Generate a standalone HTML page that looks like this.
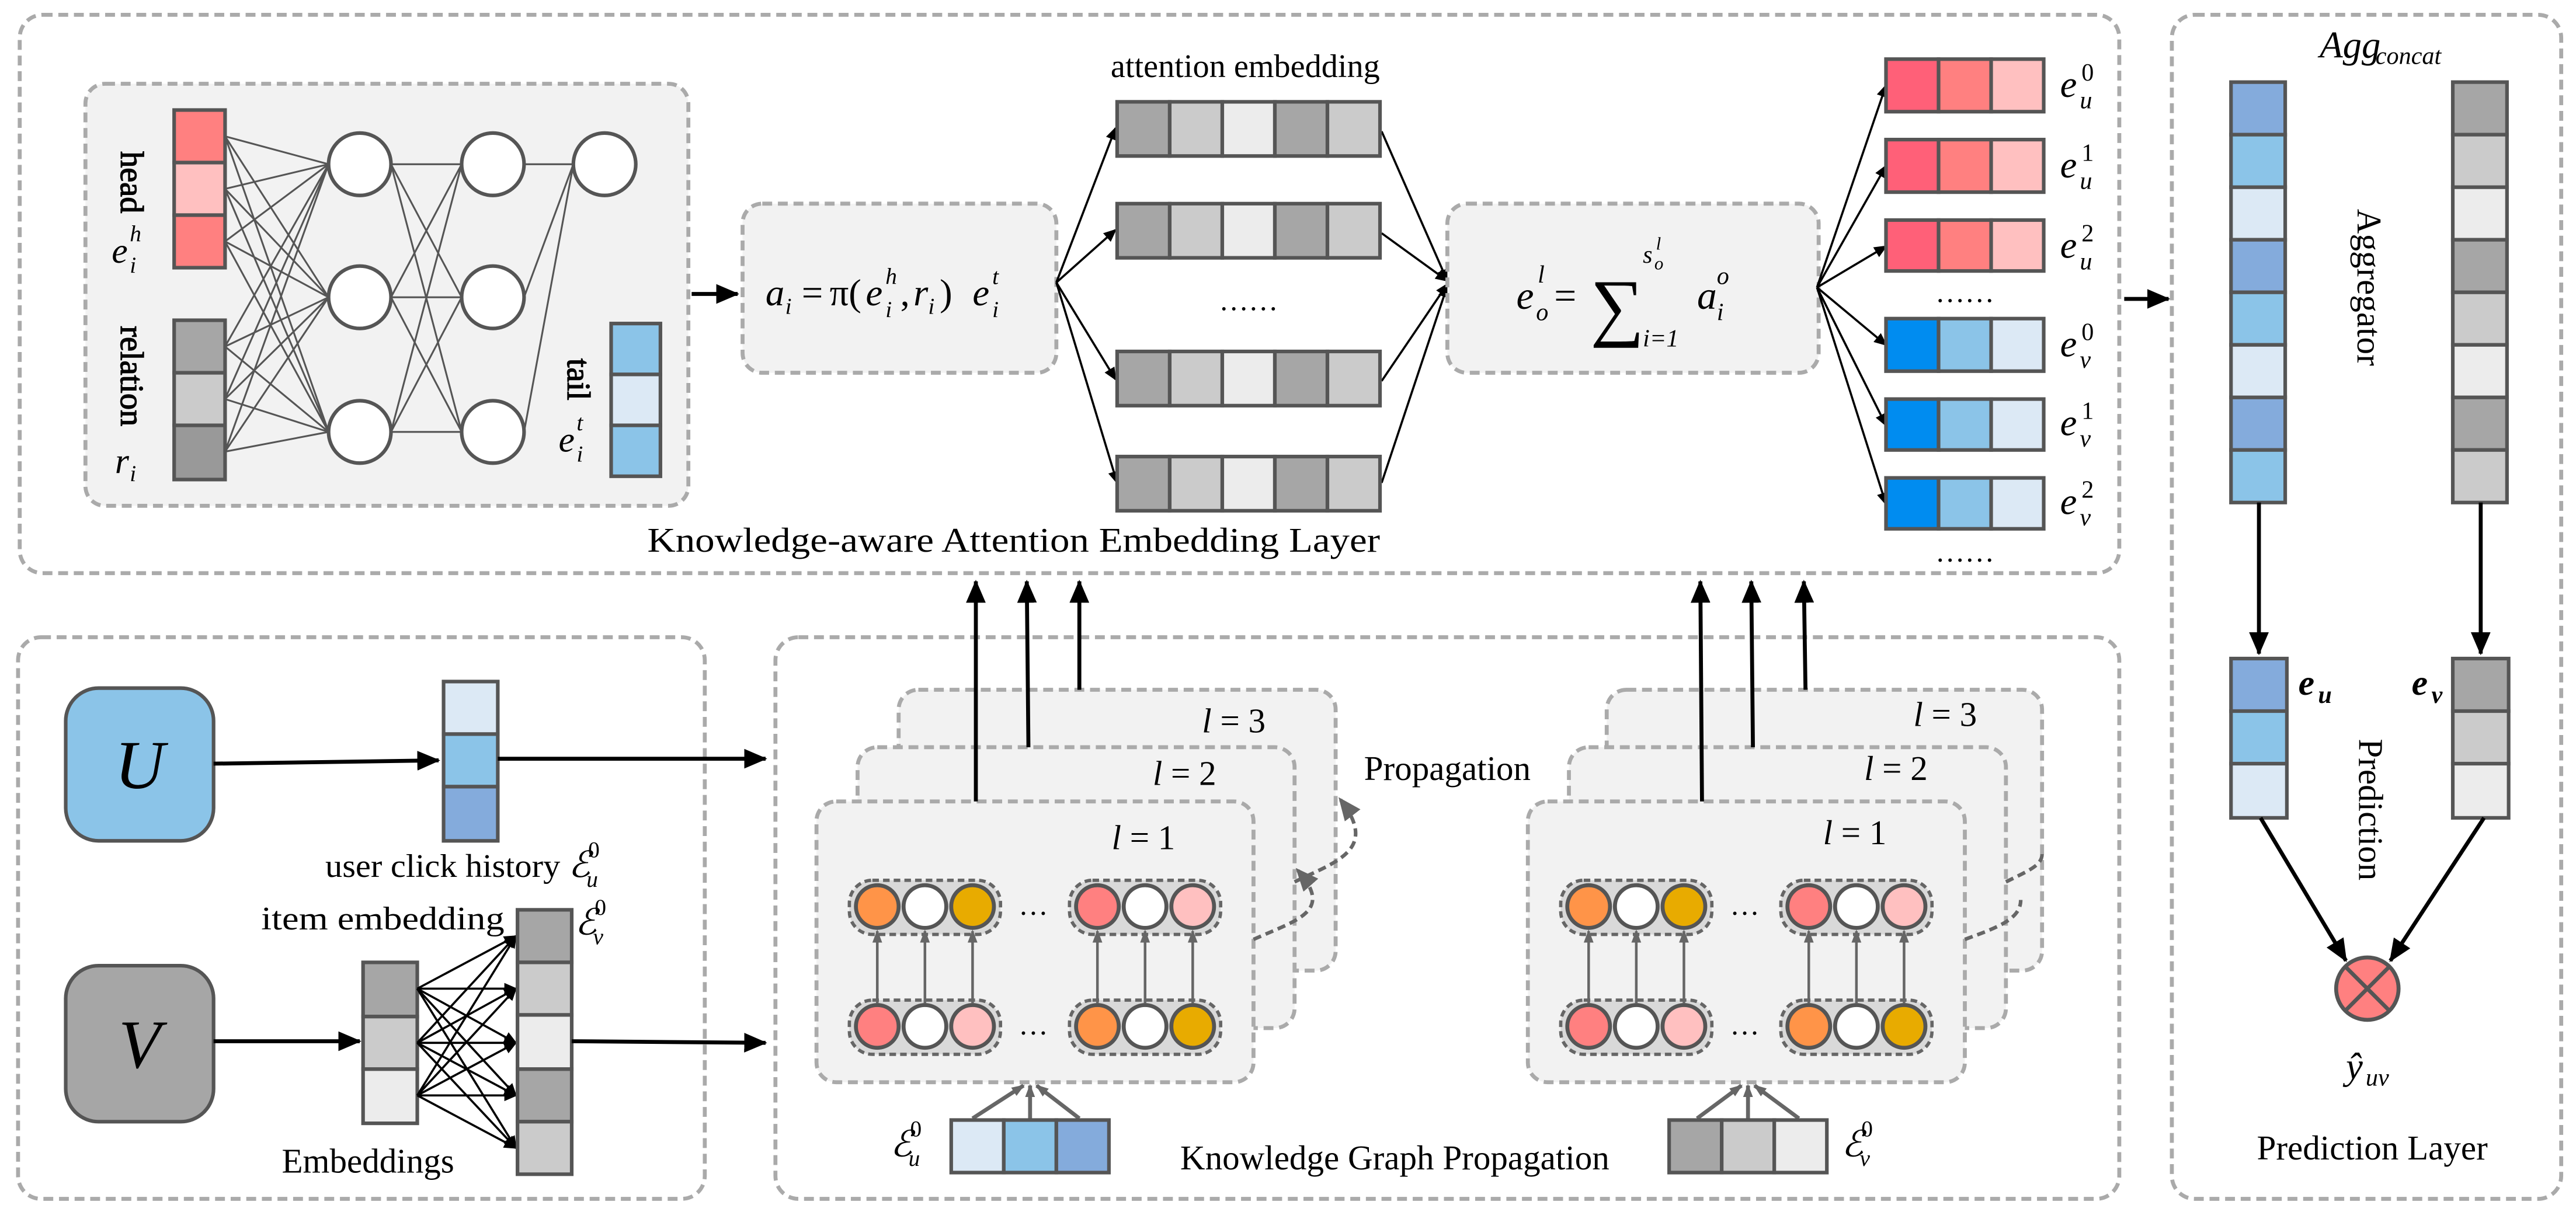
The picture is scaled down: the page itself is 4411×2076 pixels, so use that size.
<!DOCTYPE html>
<html><head><meta charset="utf-8"><style>
html,body{margin:0;padding:0;background:#fff;}
svg{display:block;}
text{font-family:"Liberation Serif","DejaVu Serif",serif;fill:#000;}
.m{font-style:italic;}
.db{fill:none;stroke:#aaa;stroke-width:2.4;stroke-dasharray:6 3.5;}
.dbf{fill:#f2f2f2;stroke:#aaa;stroke-width:2.4;stroke-dasharray:6 3.5;}
.c{stroke:#555;stroke-width:2.2;}
.nn{stroke:#555;stroke-width:1.1;fill:none;}
.ar{stroke:#000;stroke-width:1.3;fill:none;}
.arb{stroke:#000;stroke-width:2.4;fill:none;}
.ga{stroke:#666;stroke-width:1.6;fill:none;}
.vt{writing-mode:vertical-rl;}
</style></head><body>
<svg width="4411" height="2076" viewBox="0 0 1568 738" preserveAspectRatio="none" xmlns="http://www.w3.org/2000/svg">
<defs>
<marker id="a" markerWidth="8" markerHeight="8" refX="7" refY="4" orient="auto" markerUnits="userSpaceOnUse"><path d="M0,0.5 L8,4 L0,7.5 z" fill="#000"/></marker>
<marker id="ab" markerWidth="14" markerHeight="12" refX="13" refY="6" orient="auto" markerUnits="userSpaceOnUse"><path d="M0,0 L14,6 L0,12 z" fill="#000"/></marker>
<marker id="ag" markerWidth="8" markerHeight="8" refX="7" refY="4" orient="auto" markerUnits="userSpaceOnUse"><path d="M0,1 L8,4 L0,7 z" fill="#666"/></marker>
<marker id="agb" markerWidth="14" markerHeight="12" refX="12" refY="6" orient="auto" markerUnits="userSpaceOnUse"><path d="M0,0 L14,6 L0,12 z" fill="#666"/></marker>
</defs>

<rect class="db" x="12" y="9" width="1278" height="340" rx="14"/>
<rect class="db" x="1322" y="9" width="237" height="721" rx="14"/>
<rect class="db" x="11" y="388" width="418" height="342" rx="14"/>
<rect class="db" x="472" y="388" width="818" height="342" rx="14"/>

<rect class="dbf" x="52" y="51" width="367" height="257" rx="12"/>
<g class="nn">
<path d="M137,83L200,100M137,83L200,181M137,83L200,263M137,115L200,100M137,115L200,181M137,115L200,263M137,147L200,100M137,147L200,181M137,147L200,263M137,211L200,100M137,211L200,181M137,211L200,263M137,243L200,100M137,243L200,181M137,243L200,263M137,275L200,100M137,275L200,181M137,275L200,263"/>
<path d="M238,100L281,100M238,100L281,181M238,100L281,263M238,181L281,100M238,181L281,181M238,181L281,263M238,263L281,100M238,263L281,181M238,263L281,263"/>
<path d="M319,100L349,100M319,181L349,100M319,263L349,100"/>
</g>
<g fill="#fff" stroke="#555" stroke-width="2.2">
<circle cx="219" cy="100" r="19"/><circle cx="219" cy="181" r="19"/><circle cx="219" cy="263" r="19"/>
<circle cx="300" cy="100" r="19"/><circle cx="300" cy="181" r="19"/><circle cx="300" cy="263" r="19"/>
<circle cx="368" cy="100" r="19"/>
</g>
<g class="c">
<rect x="106" y="67" width="31" height="32" fill="#ff8080"/><rect x="106" y="99" width="31" height="32" fill="#ffc0c0"/><rect x="106" y="131" width="31" height="32" fill="#ff8080"/>
<rect x="106" y="195" width="31" height="32" fill="#a6a6a6"/><rect x="106" y="227" width="31" height="32" fill="#cbcbcb"/><rect x="106" y="259" width="31" height="33" fill="#999"/>
<rect x="372" y="197" width="30" height="31" fill="#8bc4e8"/><rect x="372" y="228" width="30" height="31" fill="#dce9f5"/><rect x="372" y="259" width="30" height="31" fill="#8bc4e8"/>
</g>
<text class="vt" x="80" y="111" font-size="20" text-anchor="middle" stroke="#000" stroke-width="0.5">head</text>
<text class="vt" x="80" y="229" font-size="20" text-anchor="middle" stroke="#000" stroke-width="0.5">relation</text>
<text class="vt" x="352" y="231" font-size="20" text-anchor="middle" stroke="#000" stroke-width="0.5">tail</text>
<text x="68" y="160" font-size="22" class="m">e</text><text x="79" y="166" font-size="14" class="m">i</text><text x="79" y="147" font-size="14" class="m">h</text>
<text x="70" y="288" font-size="22" class="m">r</text><text x="79" y="293" font-size="14" class="m">i</text>
<text x="340" y="275" font-size="22" class="m">e</text><text x="351" y="281" font-size="14" class="m">i</text><text x="351" y="262" font-size="14" class="m">t</text>

<line class="arb" x1="421" y1="179" x2="449" y2="179" marker-end="url(#ab)"/>
<rect class="dbf" x="452" y="124" width="191" height="103" rx="12"/>
<g font-size="23">
<text x="466" y="186" class="m">a</text><text x="478" y="191" font-size="14" class="m">i</text>
<text x="488" y="186">=</text>
<text x="505" y="186">π(</text>
<text x="527" y="186" class="m">e</text><text x="539" y="193" font-size="14" class="m">i</text><text x="539" y="173" font-size="14" class="m">h</text>
<text x="548" y="186">,</text>
<text x="556" y="186" class="m">r</text><text x="565" y="191" font-size="14" class="m">i</text>
<text x="572" y="186">)</text>
<text x="592" y="186" class="m">e</text><text x="604" y="193" font-size="14" class="m">i</text><text x="604" y="173" font-size="14" class="m">t</text>
</g>

<g class="ar">
<line x1="643" y1="172" x2="679" y2="78" marker-end="url(#a)"/>
<line x1="643" y1="172" x2="679" y2="140" marker-end="url(#a)"/>
<line x1="643" y1="172" x2="679" y2="231" marker-end="url(#a)"/>
<line x1="643" y1="172" x2="680" y2="294" marker-end="url(#a)"/>
<line x1="841" y1="80" x2="881" y2="171" marker-end="url(#a)"/>
<line x1="841" y1="142" x2="881" y2="171" marker-end="url(#a)"/>
<line x1="841" y1="232" x2="881" y2="173" marker-end="url(#a)"/>
<line x1="841" y1="294" x2="881" y2="174" marker-end="url(#a)"/>
</g>
<text x="758" y="47" font-size="20" text-anchor="middle">attention embedding</text>
<g class="c">
<g transform="translate(680,62)"><rect width="32" height="33" fill="#a6a6a6"/><rect x="32" width="32" height="33" fill="#cbcbcb"/><rect x="64" width="32" height="33" fill="#ececec"/><rect x="96" width="32" height="33" fill="#a6a6a6"/><rect x="128" width="32" height="33" fill="#cbcbcb"/></g>
<g transform="translate(680,124)"><rect width="32" height="33" fill="#a6a6a6"/><rect x="32" width="32" height="33" fill="#cbcbcb"/><rect x="64" width="32" height="33" fill="#ececec"/><rect x="96" width="32" height="33" fill="#a6a6a6"/><rect x="128" width="32" height="33" fill="#cbcbcb"/></g>
<g transform="translate(680,214)"><rect width="32" height="33" fill="#a6a6a6"/><rect x="32" width="32" height="33" fill="#cbcbcb"/><rect x="64" width="32" height="33" fill="#ececec"/><rect x="96" width="32" height="33" fill="#a6a6a6"/><rect x="128" width="32" height="33" fill="#cbcbcb"/></g>
<g transform="translate(680,278)"><rect width="32" height="33" fill="#a6a6a6"/><rect x="32" width="32" height="33" fill="#cbcbcb"/><rect x="64" width="32" height="33" fill="#ececec"/><rect x="96" width="32" height="33" fill="#a6a6a6"/><rect x="128" width="32" height="33" fill="#cbcbcb"/></g>
</g>
<text x="760" y="189" font-size="18" text-anchor="middle">……</text>

<rect class="dbf" x="881" y="124" width="226" height="103" rx="12"/>
<g font-size="24">
<text x="923" y="188" class="m">e</text><text x="935" y="195" font-size="15" class="m">o</text><text x="936" y="172" font-size="15" class="m">l</text>
<text x="946" y="188">=</text>
<text x="968" y="202" font-size="46">∑</text>
<text x="1000" y="211" font-size="15" class="m">i=1</text>
<text x="1000" y="160" font-size="15" class="m">s</text><text x="1007" y="164" font-size="11" class="m">o</text><text x="1008" y="152" font-size="11" class="m">l</text>
<text x="1033" y="188" class="m">a</text><text x="1045" y="195" font-size="15" class="m">i</text><text x="1045" y="173" font-size="15" class="m">o</text>
</g>

<g class="ar">
<line x1="1106" y1="175" x2="1148" y2="52" marker-end="url(#a)"/>
<line x1="1106" y1="175" x2="1148" y2="101" marker-end="url(#a)"/>
<line x1="1106" y1="175" x2="1148" y2="150" marker-end="url(#a)"/>
<line x1="1106" y1="175" x2="1148" y2="210" marker-end="url(#a)"/>
<line x1="1106" y1="175" x2="1148" y2="259" marker-end="url(#a)"/>
<line x1="1106" y1="175" x2="1148" y2="307" marker-end="url(#a)"/>
</g>
<g class="c">
<g transform="translate(1148,36)"><rect width="32" height="32" fill="#ff6078"/><rect x="32" width="32" height="32" fill="#ff8080"/><rect x="64" width="32" height="32" fill="#ffc0c0"/></g>
<g transform="translate(1148,85)"><rect width="32" height="32" fill="#ff6078"/><rect x="32" width="32" height="32" fill="#ff8080"/><rect x="64" width="32" height="32" fill="#ffc0c0"/></g>
<g transform="translate(1148,134)"><rect width="32" height="31" fill="#ff6078"/><rect x="32" width="32" height="31" fill="#ff8080"/><rect x="64" width="32" height="31" fill="#ffc0c0"/></g>
<g transform="translate(1148,194)"><rect width="32" height="32" fill="#008cf0"/><rect x="32" width="32" height="32" fill="#8bc4e8"/><rect x="64" width="32" height="32" fill="#dce9f5"/></g>
<g transform="translate(1148,243)"><rect width="32" height="31" fill="#008cf0"/><rect x="32" width="32" height="31" fill="#8bc4e8"/><rect x="64" width="32" height="31" fill="#dce9f5"/></g>
<g transform="translate(1148,291)"><rect width="32" height="31" fill="#008cf0"/><rect x="32" width="32" height="31" fill="#8bc4e8"/><rect x="64" width="32" height="31" fill="#dce9f5"/></g>
</g>
<g font-size="23" class="m">
<text x="1254" y="59">e</text><text x="1266" y="66" font-size="15">u</text><text x="1267" y="49" font-size="15" font-style="normal">0</text>
<text x="1254" y="108">e</text><text x="1266" y="115" font-size="15">u</text><text x="1267" y="98" font-size="15" font-style="normal">1</text>
<text x="1254" y="157">e</text><text x="1266" y="164" font-size="15">u</text><text x="1267" y="147" font-size="15" font-style="normal">2</text>
<text x="1254" y="217">e</text><text x="1266" y="224" font-size="15">v</text><text x="1267" y="207" font-size="15" font-style="normal">0</text>
<text x="1254" y="265">e</text><text x="1266" y="272" font-size="15">v</text><text x="1267" y="255" font-size="15" font-style="normal">1</text>
<text x="1254" y="313">e</text><text x="1266" y="320" font-size="15">v</text><text x="1267" y="303" font-size="15" font-style="normal">2</text>
</g>
<text x="1196" y="184" font-size="18" text-anchor="middle">……</text>
<text x="1196" y="342" font-size="18" text-anchor="middle">……</text>
<text x="617" y="336" font-size="21" text-anchor="middle" textLength="446" lengthAdjust="spacingAndGlyphs">Knowledge-aware Attention Embedding Layer</text>

<line class="arb" x1="1293" y1="182" x2="1320" y2="182" marker-end="url(#ab)"/>

<text x="1412" y="35" font-size="23" class="m">Agg</text><text x="1446" y="39" font-size="15" class="m">concat</text>
<g class="c">
<g transform="translate(1358,50)"><rect width="33" height="32" fill="#84abdc"/><rect y="32" width="33" height="32" fill="#8bc4e8"/><rect y="64" width="33" height="32" fill="#dce9f5"/><rect y="96" width="33" height="32" fill="#84abdc"/><rect y="128" width="33" height="32" fill="#8bc4e8"/><rect y="160" width="33" height="32" fill="#dce9f5"/><rect y="192" width="33" height="32" fill="#84abdc"/><rect y="224" width="33" height="32" fill="#8bc4e8"/></g>
<g transform="translate(1493,50)"><rect width="33" height="32" fill="#a6a6a6"/><rect y="32" width="33" height="32" fill="#cbcbcb"/><rect y="64" width="33" height="32" fill="#ececec"/><rect y="96" width="33" height="32" fill="#a6a6a6"/><rect y="128" width="33" height="32" fill="#cbcbcb"/><rect y="160" width="33" height="32" fill="#ececec"/><rect y="192" width="33" height="32" fill="#a6a6a6"/><rect y="224" width="33" height="32" fill="#cbcbcb"/></g>
</g>
<g transform="translate(1435,175) rotate(90)"><text x="0" y="0" font-size="21" text-anchor="middle">Aggregator</text></g>
<line class="arb" x1="1375" y1="306" x2="1375" y2="398" marker-end="url(#ab)"/>
<line class="arb" x1="1510" y1="306" x2="1510" y2="398" marker-end="url(#ab)"/>
<g class="c">
<rect x="1358" y="401" width="34" height="32" fill="#84abdc"/><rect x="1358" y="433" width="34" height="32" fill="#8bc4e8"/><rect x="1358" y="465" width="34" height="33" fill="#dce9f5"/>
<rect x="1493" y="401" width="34" height="32" fill="#a6a6a6"/><rect x="1493" y="433" width="34" height="32" fill="#cbcbcb"/><rect x="1493" y="465" width="34" height="33" fill="#ececec"/>
</g>
<text x="1399" y="423" font-size="22" class="m" font-weight="bold">e</text><text x="1411" y="428" font-size="15" class="m" font-weight="bold">u</text>
<text x="1468" y="423" font-size="22" class="m" font-weight="bold">e</text><text x="1480" y="428" font-size="15" class="m" font-weight="bold">v</text>
<g transform="translate(1436,493) rotate(90)"><text x="0" y="0" font-size="21" text-anchor="middle">Prediction</text></g>
<line class="arb" x1="1376" y1="498" x2="1428" y2="585" marker-end="url(#ab)"/>
<line class="arb" x1="1512" y1="498" x2="1455" y2="585" marker-end="url(#ab)"/>
<circle cx="1441" cy="602" r="19" fill="#ff8080" stroke="#555" stroke-width="2.4"/>
<path d="M1428,589L1454,615M1454,589L1428,615" stroke="#555" stroke-width="2.4"/>
<text x="1428" y="657" font-size="23" class="m">ŷ</text><text x="1440" y="661" font-size="15" class="m">uv</text>
<text x="1444" y="706" font-size="21" text-anchor="middle">Prediction Layer</text>

<rect x="40" y="419" width="90" height="93" rx="20" fill="#8bc4e8" stroke="#555" stroke-width="2.2"/>
<rect x="40" y="588" width="90" height="95" rx="20" fill="#a6a6a6" stroke="#555" stroke-width="2.2"/>
<text x="85" y="480" font-size="42" class="m" text-anchor="middle">U</text>
<text x="85" y="650" font-size="42" class="m" text-anchor="middle">V</text>
<line class="arb" x1="130" y1="465" x2="267" y2="463" marker-end="url(#ab)"/>
<g class="c"><rect x="270" y="415" width="33" height="32" fill="#dce9f5"/><rect x="270" y="447" width="33" height="32" fill="#8bc4e8"/><rect x="270" y="479" width="33" height="33" fill="#84abdc"/></g>
<line class="arb" x1="303" y1="462" x2="466" y2="462" marker-end="url(#ab)"/>
<text x="198" y="534" font-size="20" textLength="143" lengthAdjust="spacingAndGlyphs">user click history</text>
<text x="346" y="534" font-size="22" class="m">ℰ</text><text x="357" y="540" font-size="14" class="m">u</text><text x="358" y="522" font-size="14">0</text>
<text x="159" y="566" font-size="20" textLength="148" lengthAdjust="spacingAndGlyphs">item embedding</text>
<text x="350" y="569" font-size="22" class="m">ℰ</text><text x="361" y="575" font-size="14" class="m">v</text><text x="362" y="557" font-size="14">0</text>
<line class="arb" x1="130" y1="634" x2="219" y2="634" marker-end="url(#ab)"/>
<g class="c"><rect x="221" y="586" width="33" height="33" fill="#a6a6a6"/><rect x="221" y="619" width="33" height="32" fill="#cbcbcb"/><rect x="221" y="651" width="33" height="33" fill="#ececec"/></g>
<g class="ar">
<line x1="254" y1="602" x2="314" y2="570" marker-end="url(#a)"/><line x1="254" y1="602" x2="314" y2="602" marker-end="url(#a)"/><line x1="254" y1="602" x2="314" y2="635" marker-end="url(#a)"/><line x1="254" y1="602" x2="314" y2="667" marker-end="url(#a)"/><line x1="254" y1="602" x2="314" y2="699" marker-end="url(#a)"/>
<line x1="254" y1="635" x2="314" y2="570" marker-end="url(#a)"/><line x1="254" y1="635" x2="314" y2="602" marker-end="url(#a)"/><line x1="254" y1="635" x2="314" y2="635" marker-end="url(#a)"/><line x1="254" y1="635" x2="314" y2="667" marker-end="url(#a)"/><line x1="254" y1="635" x2="314" y2="699" marker-end="url(#a)"/>
<line x1="254" y1="667" x2="314" y2="570" marker-end="url(#a)"/><line x1="254" y1="667" x2="314" y2="602" marker-end="url(#a)"/><line x1="254" y1="667" x2="314" y2="635" marker-end="url(#a)"/><line x1="254" y1="667" x2="314" y2="667" marker-end="url(#a)"/><line x1="254" y1="667" x2="314" y2="699" marker-end="url(#a)"/>
</g>
<g class="c"><rect x="315" y="554" width="33" height="32" fill="#a6a6a6"/><rect x="315" y="586" width="33" height="32" fill="#cbcbcb"/><rect x="315" y="618" width="33" height="33" fill="#ececec"/><rect x="315" y="651" width="33" height="32" fill="#a6a6a6"/><rect x="315" y="683" width="33" height="32" fill="#cbcbcb"/></g>
<line class="arb" x1="348" y1="634" x2="466" y2="635" marker-end="url(#ab)"/>
<text x="224" y="714" font-size="21" text-anchor="middle">Embeddings</text>

<rect class="dbf" x="547" y="420" width="266" height="171" rx="12"/>
<rect class="dbf" x="522" y="455" width="266" height="171" rx="12"/>
<rect class="dbf" x="497" y="488" width="266" height="171" rx="12"/>
<rect class="dbf" x="978" y="420" width="265" height="171" rx="12"/>
<rect class="dbf" x="955" y="455" width="266" height="171" rx="12"/>
<rect class="dbf" x="930" y="488" width="266" height="171" rx="12"/>
<g font-size="21">
<text x="751" y="446" text-anchor="middle"><tspan class="m">l</tspan> = 3</text>
<text x="721" y="478" text-anchor="middle"><tspan class="m">l</tspan> = 2</text>
<text x="696" y="517" text-anchor="middle"><tspan class="m">l</tspan> = 1</text>
<text x="1184" y="442" text-anchor="middle"><tspan class="m">l</tspan> = 3</text>
<text x="1154" y="475" text-anchor="middle"><tspan class="m">l</tspan> = 2</text>
<text x="1129" y="514" text-anchor="middle"><tspan class="m">l</tspan> = 1</text>
</g>
<text x="881" y="475" font-size="21" text-anchor="middle">Propagation</text>
<g class="arb">
<line x1="594" y1="488" x2="594" y2="354" marker-end="url(#ab)"/>
<line x1="626" y1="455" x2="625" y2="354" marker-end="url(#ab)"/>
<line x1="657" y1="420" x2="657" y2="354" marker-end="url(#ab)"/>
<line x1="1036" y1="488" x2="1035" y2="354" marker-end="url(#ab)"/>
<line x1="1067" y1="455" x2="1066" y2="354" marker-end="url(#ab)"/>
<line x1="1099" y1="420" x2="1098" y2="354" marker-end="url(#ab)"/>
</g>
<g stroke="#666" stroke-width="2.2" fill="none" stroke-dasharray="5 3">
<path d="M763,572 C790,560 812,555 790,530" marker-end="url(#agb)"/>
<path d="M788,537 C812,525 840,518 816,487" marker-end="url(#agb)"/>
<path d="M1196,572 C1215,565 1230,560 1230,548"/>
<path d="M1221,537 C1235,530 1243,527 1243,520"/>
</g>

<g>
<g fill="#d9d9d9" stroke="#666" stroke-width="2" stroke-dasharray="4 2.5">
<rect x="517" y="536" width="92" height="33" rx="14"/><rect x="651" y="536" width="92" height="33" rx="14"/>
<rect x="517" y="609" width="92" height="33" rx="14"/><rect x="651" y="609" width="92" height="33" rx="14"/>
</g>
<g stroke="#555" stroke-width="2.4">
<circle cx="534" cy="552" r="13" fill="#ff9448"/><circle cx="563" cy="552" r="13" fill="#fff"/><circle cx="592" cy="552" r="13" fill="#e8ab00"/>
<circle cx="668" cy="552" r="13" fill="#ff8080"/><circle cx="697" cy="552" r="13" fill="#fff"/><circle cx="726" cy="552" r="13" fill="#ffc0c0"/>
<circle cx="534" cy="625" r="13" fill="#ff8080"/><circle cx="563" cy="625" r="13" fill="#fff"/><circle cx="592" cy="625" r="13" fill="#ffc0c0"/>
<circle cx="668" cy="625" r="13" fill="#ff9448"/><circle cx="697" cy="625" r="13" fill="#fff"/><circle cx="726" cy="625" r="13" fill="#e8ab00"/>
</g>
<g class="ga">
<line x1="534" y1="611" x2="534" y2="567" marker-end="url(#ag)"/><line x1="563" y1="611" x2="563" y2="567" marker-end="url(#ag)"/><line x1="592" y1="611" x2="592" y2="567" marker-end="url(#ag)"/>
<line x1="668" y1="611" x2="668" y2="567" marker-end="url(#ag)"/><line x1="697" y1="611" x2="697" y2="567" marker-end="url(#ag)"/><line x1="726" y1="611" x2="726" y2="567" marker-end="url(#ag)"/>
</g>
<text x="629" y="557" font-size="18" text-anchor="middle">…</text>
<text x="629" y="630" font-size="18" text-anchor="middle">…</text>
</g>
<g transform="translate(433,0)">
<g fill="#d9d9d9" stroke="#666" stroke-width="2" stroke-dasharray="4 2.5">
<rect x="517" y="536" width="92" height="33" rx="14"/><rect x="651" y="536" width="92" height="33" rx="14"/>
<rect x="517" y="609" width="92" height="33" rx="14"/><rect x="651" y="609" width="92" height="33" rx="14"/>
</g>
<g stroke="#555" stroke-width="2.4">
<circle cx="534" cy="552" r="13" fill="#ff9448"/><circle cx="563" cy="552" r="13" fill="#fff"/><circle cx="592" cy="552" r="13" fill="#e8ab00"/>
<circle cx="668" cy="552" r="13" fill="#ff8080"/><circle cx="697" cy="552" r="13" fill="#fff"/><circle cx="726" cy="552" r="13" fill="#ffc0c0"/>
<circle cx="534" cy="625" r="13" fill="#ff8080"/><circle cx="563" cy="625" r="13" fill="#fff"/><circle cx="592" cy="625" r="13" fill="#ffc0c0"/>
<circle cx="668" cy="625" r="13" fill="#ff9448"/><circle cx="697" cy="625" r="13" fill="#fff"/><circle cx="726" cy="625" r="13" fill="#e8ab00"/>
</g>
<g class="ga">
<line x1="534" y1="611" x2="534" y2="567" marker-end="url(#ag)"/><line x1="563" y1="611" x2="563" y2="567" marker-end="url(#ag)"/><line x1="592" y1="611" x2="592" y2="567" marker-end="url(#ag)"/>
<line x1="668" y1="611" x2="668" y2="567" marker-end="url(#ag)"/><line x1="697" y1="611" x2="697" y2="567" marker-end="url(#ag)"/><line x1="726" y1="611" x2="726" y2="567" marker-end="url(#ag)"/>
</g>
<text x="629" y="557" font-size="18" text-anchor="middle">…</text>
<text x="629" y="630" font-size="18" text-anchor="middle">…</text>
</g>

<g stroke="#666" stroke-width="2.4" fill="none">
<line x1="592" y1="681" x2="623" y2="661" marker-end="url(#ag)"/><line x1="627" y1="681" x2="627" y2="661" marker-end="url(#ag)"/><line x1="657" y1="681" x2="631" y2="661" marker-end="url(#ag)"/>
<line x1="1033" y1="681" x2="1060" y2="661" marker-end="url(#ag)"/><line x1="1064" y1="681" x2="1064" y2="661" marker-end="url(#ag)"/><line x1="1095" y1="681" x2="1068" y2="661" marker-end="url(#ag)"/>
</g>
<g class="c">
<rect x="579" y="682" width="32" height="32" fill="#dce9f5"/><rect x="611" y="682" width="32" height="32" fill="#8bc4e8"/><rect x="643" y="682" width="32" height="32" fill="#84abdc"/>
<rect x="1016" y="682" width="32" height="32" fill="#a6a6a6"/><rect x="1048" y="682" width="32" height="32" fill="#cbcbcb"/><rect x="1080" y="682" width="32" height="32" fill="#ececec"/>
</g>
<text x="542" y="704" font-size="22" class="m">ℰ</text><text x="553" y="710" font-size="14" class="m">u</text><text x="554" y="692" font-size="14">0</text>
<text x="1121" y="704" font-size="22" class="m">ℰ</text><text x="1132" y="710" font-size="14" class="m">v</text><text x="1133" y="692" font-size="14">0</text>
<text x="849" y="712" font-size="21" text-anchor="middle">Knowledge Graph Propagation</text>
</svg>
</body></html>
